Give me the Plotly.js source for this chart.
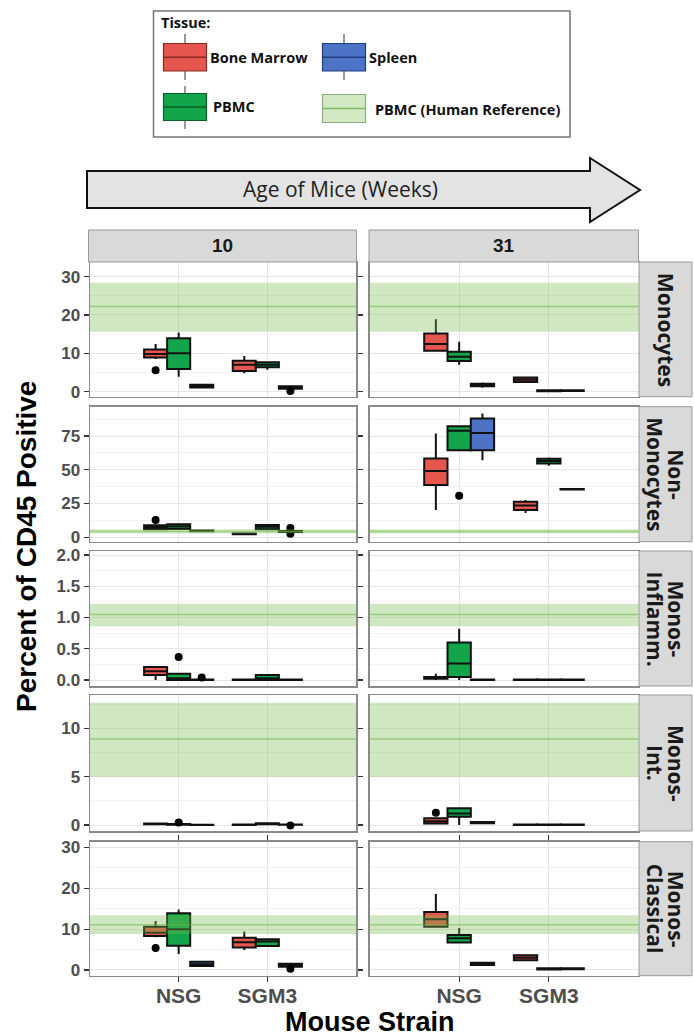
<!DOCTYPE html>
<html><head><meta charset="utf-8">
<script src="https://cdn.plot.ly/plotly-3.0.1.min.js"></script>
<style>html,body{margin:0;padding:0;background:#fff}</style>
</head><body><div id="chart" style="width:694px;height:1036px"></div>
<script>
// ---------------- DATA ----------------
const strains = ['NSG', 'SGM3'];
const ages = ['10', '31'];
const cellTypes = ['Monocytes', 'Non-\nMonocytes', 'Monos-\nInflamm.', 'Monos-\nInt.', 'Monos-\nClassical'];
const tissues = ['Bone Marrow', 'PBMC', 'Spleen'];

// Five-number summaries [lower whisker, Q1, median, Q3, upper whisker] for [NSG, SGM3]
const monocytes_10 = {
  bm:     [[8.5, 8.9, 9.8, 11.0, 12.4], [4.8, 5.4, 7.0, 8.1, 9.3]],
  pbmc:   [[3.9, 5.9, 10.0, 13.9, 15.4], [5.7, 6.4, 7.0, 7.7, 7.8]],
  spleen: [[1.0, 1.1, 1.4, 1.8, 1.9], [0.6, 0.8, 1.1, 1.4, 1.5]]
};
const monocytes_31 = {
  bm:     [[10.5, 10.7, 12.4, 15.2, 18.9], [2.3, 2.5, 3.1, 3.7, 3.9]],
  pbmc:   [[7.0, 8.0, 9.1, 10.4, 13.0], [0.0, 0.1, 0.2, 0.4, 0.5]],
  spleen: [[1.0, 1.4, 1.7, 2.1, 2.4], [0.1, 0.2, 0.3, 0.4, 0.5]]
};
const nonMonocytes_10 = {
  bm:     [[5.5, 5.9, 7.4, 8.9, 9.5], [2.0, 2.2, 2.5, 2.8, 3.0]],
  pbmc:   [[5.8, 6.1, 8.0, 9.6, 9.8], [5.6, 5.9, 7.8, 9.1, 9.3]],
  spleen: [[4.2, 4.4, 4.7, 5.0, 5.2], [3.6, 3.8, 4.1, 4.6, 4.9]]
};
const nonMonocytes_31 = {
  bm:     [[20.2, 38.7, 49.0, 58.4, 76.9], [18.0, 20.2, 23.5, 26.3, 27.5]],
  pbmc:   [[64.5, 64.5, 78.8, 82.3, 82.3], [53.0, 54.7, 56.5, 58.1, 59.0]],
  spleen: [[57.1, 64.5, 77.3, 88.0, 91.6], [35.0, 35.3, 35.5, 35.8, 36.0]]
};
const inflamm_10 = {
  bm:     [[0.0, 0.08, 0.14, 0.21, 0.22], [0.0, 0.0, 0.005, 0.01, 0.01]],
  pbmc:   [[0.0, 0.0, 0.03, 0.10, 0.11], [0.0, 0.0, 0.03, 0.08, 0.08]],
  spleen: [[0.0, 0.0, 0.005, 0.01, 0.01], [0.0, 0.0, 0.005, 0.01, 0.01]]
};
const inflamm_31 = {
  bm:     [[0.0, 0.02, 0.03, 0.05, 0.10], [0.0, 0.0, 0.005, 0.01, 0.01]],
  pbmc:   [[0.0, 0.05, 0.265, 0.60, 0.82], [0.0, 0.0, 0.005, 0.01, 0.01]],
  spleen: [[0.0, 0.0, 0.005, 0.01, 0.02], [0.0, 0.0, 0.005, 0.01, 0.01]]
};
const intermediate_10 = {
  bm:     [[0.05, 0.08, 0.12, 0.16, 0.20], [0.0, 0.01, 0.02, 0.04, 0.05]],
  pbmc:   [[0.0, 0.02, 0.05, 0.10, 0.15], [0.05, 0.08, 0.12, 0.18, 0.20]],
  spleen: [[0.0, 0.0, 0.01, 0.02, 0.03], [0.01, 0.02, 0.03, 0.05, 0.06]]
};
const intermediate_31 = {
  bm:     [[0.10, 0.15, 0.40, 0.69, 0.75], [0.0, 0.01, 0.02, 0.04, 0.05]],
  pbmc:   [[0.0, 0.86, 1.20, 1.73, 1.80], [0.0, 0.01, 0.02, 0.04, 0.05]],
  spleen: [[0.15, 0.18, 0.24, 0.30, 0.33], [0.0, 0.01, 0.02, 0.04, 0.05]]
};
const classical_10 = {
  bm:     [[8.0, 8.3, 9.1, 10.6, 12.0], [4.9, 5.5, 6.8, 7.9, 9.4]],
  pbmc:   [[3.9, 5.95, 10.0, 13.9, 14.8], [5.7, 5.9, 7.0, 7.5, 7.6]],
  spleen: [[1.0, 1.0, 1.4, 2.0, 2.0], [0.7, 0.8, 1.1, 1.5, 1.5]]
};
const classical_31 = {
  bm:     [[10.4, 10.6, 12.4, 14.2, 18.6], [2.2, 2.4, 3.0, 3.6, 3.8]],
  pbmc:   [[6.5, 6.7, 7.75, 8.55, 10.3], [0.0, 0.1, 0.2, 0.4, 0.5]],
  spleen: [[1.1, 1.2, 1.5, 1.8, 1.9], [0.1, 0.2, 0.3, 0.4, 0.5]]
};

// Outlying points for [NSG, SGM3]
const monocytes_10_out    = { bm: [[5.6], []], pbmc: [[], []], spleen: [[], [0.2]] };
const monocytes_31_out    = { bm: [[], []], pbmc: [[], []], spleen: [[], []] };
const nonMonocytes_10_out = { bm: [[12.8], []], pbmc: [[], []], spleen: [[], [6.8, 2.6]] };
const nonMonocytes_31_out = { bm: [[], []], pbmc: [[30.8], []], spleen: [[], []] };
const inflamm_10_out      = { bm: [[], []], pbmc: [[0.37], []], spleen: [[0.04], []] };
const inflamm_31_out      = { bm: [[], []], pbmc: [[], []], spleen: [[], []] };
const intermediate_10_out = { bm: [[], []], pbmc: [[0.25], []], spleen: [[], [-0.05]] };
const intermediate_31_out = { bm: [[1.27], []], pbmc: [[], []], spleen: [[], []] };
const classical_10_out    = { bm: [[5.4], []], pbmc: [[], []], spleen: [[], [0.3]] };
const classical_31_out    = { bm: [[], []], pbmc: [[], []], spleen: [[], []] };

// PBMC human reference band per cell type: low, mid, high
const refLow  = [15.6, 2.7, 0.86, 5.0, 8.8];
const refMid  = [22.2, 4.3, 1.05, 8.9, 11.1];
const refHigh = [28.4, 6.0, 1.22, 12.65, 13.4];

// ---------------- BUILD ----------------
const W = 694, H = 1036;
const X = px => px / W;
const Y = py => 1 - py / H;

const panels = [
  [monocytes_10, monocytes_31], [nonMonocytes_10, nonMonocytes_31], [inflamm_10, inflamm_31],
  [intermediate_10, intermediate_31], [classical_10, classical_31]
];
const outliers = [
  [monocytes_10_out, monocytes_31_out], [nonMonocytes_10_out, nonMonocytes_31_out], [inflamm_10_out, inflamm_31_out],
  [intermediate_10_out, intermediate_31_out], [classical_10_out, classical_31_out]
];
const keys = ['bm', 'pbmc', 'spleen'];
const fills = ['#e4564e', '#12a54a', '#4c73c5'];

const traces = [];
panels.forEach((row, ri) => row.forEach((panel, ci) => keys.forEach((k, ti) => {
  const s = panel[k];
  traces.push({
    type: 'box', name: tissues[ti], showlegend: false,
    x: strains,
    lowerfence: s.map(v => v[0]), q1: s.map(v => v[1]), median: s.map(v => v[2]),
    q3: s.map(v => v[3]), upperfence: s.map(v => v[4]),
    // sample points: the median (never drawn) plus any outlying observations
    y: s.map((v, j) => [v[2]].concat(outliers[ri][ci][k][j])),
    boxpoints: 'outliers', jitter: 0, pointpos: 0,
    xaxis: ci === 0 ? 'x' : 'x2', yaxis: ri === 0 ? 'y' : 'y' + (ri + 1),
    offsetgroup: k,
    fillcolor: fills[ti],
    line: { color: '#111111', width: 2 },
    marker: { color: '#000000', size: 8, outliercolor: '#000000', line: { width: 0 } },
    whiskerwidth: 0, hoverinfo: 'skip'
  });
})));

const colDom = [[X(90), X(356)], [X(369.5), X(638.5)]];
const rowPx = [[262, 396.7], [406.7, 541.7], [551, 686], [695, 831], [841.7, 975.7]];
const yRanges = [[-1.3, 33.8], [-3.3, 96.7], [-0.096, 2.064], [-0.62, 13.44], [-1.4, 31.4]];
const dticks = [10, 25, 0.5, 5, 10];

const borderCol = '#8a8a8a';
const gridCol = '#e6e6e6';
const minorCol = '#f2f2f2';
const tickFont = { family: 'Liberation Sans, Arial, sans-serif', size: 17, color: '#4d4d4d', weight: 'bold' };

const layout = {
  width: W, height: H, margin: { l: 0, r: 0, t: 0, b: 0 },
  paper_bgcolor: '#ffffff', plot_bgcolor: '#ffffff',
  boxmode: 'group', boxgap: 0.22, boxgroupgap: 0,
  showlegend: false,
  shapes: [], annotations: []
};

[0, 1].forEach(ci => {
  const name = ci === 0 ? 'xaxis' : 'xaxis2';
  layout[name] = {
    domain: colDom[ci], anchor: 'y5', type: 'category', categoryarray: strains,
    range: [-1, 2], showgrid: true, gridcolor: gridCol, gridwidth: 1,
    showline: true, linecolor: borderCol, linewidth: 1.5, mirror: 'all',
    ticks: 'outside', ticklen: 5, tickcolor: '#333333', tickwidth: 1.2, ticklabelstandoff: -4,
    tickfont: { family: 'Liberation Sans, Arial, sans-serif', size: 21, color: '#4d4d4d', weight: 'bold' },
    zeroline: false, fixedrange: true
  };
});

rowPx.forEach((rp, ri) => {
  const name = ri === 0 ? 'yaxis' : 'yaxis' + (ri + 1);
  layout[name] = {
    domain: [Y(rp[1]), Y(rp[0])], anchor: 'x', range: yRanges[ri],
    tick0: 0, dtick: dticks[ri], tickformat: ri === 2 ? '.1f' : '',
    showgrid: true, gridcolor: gridCol, gridwidth: 1,
    minor: { dtick: dticks[ri] / 2, tick0: 0, showgrid: true, gridcolor: minorCol, gridwidth: 1 },
    showline: true, linecolor: borderCol, linewidth: 1.5, mirror: 'all',
    ticks: 'outside', ticklen: 5, tickcolor: '#333333', tickwidth: 1.2,
    tickfont: tickFont, zeroline: false, fixedrange: true
  };
  // human reference bands
  [0, 1].forEach(ci => {
    const xr = (ci === 0 ? 'x' : 'x2') + ' domain';
    const yr = ri === 0 ? 'y' : 'y' + (ri + 1);
    layout.shapes.push({ type: 'rect', layer: 'above', xref: xr, yref: yr, x0: 0, x1: 1,
      y0: refLow[ri], y1: refHigh[ri], fillcolor: 'rgba(120,190,80,0.35)', line: { width: 0 } });
    layout.shapes.push({ type: 'line', layer: 'above', xref: xr, yref: yr, x0: 0, x1: 1,
      y0: refMid[ri], y1: refMid[ri], line: { color: 'rgba(110,180,70,0.55)', width: 1.5 } });
  });
  // right strip
  layout.shapes.push({ type: 'rect', xref: 'paper', yref: 'paper', x0: X(639), x1: X(692),
    y0: Y(rp[1]), y1: Y(rp[0]), fillcolor: '#d9d9d9', line: { color: '#999999', width: 1 } });
  const lines = cellTypes[ri].split('\n');
  const cx = 665.5;
  lines.forEach((ln, li) => {
    const off = lines.length === 1 ? 0 : (li === 0 ? 10.5 : -10.5);
    layout.annotations.push({ xref: 'paper', yref: 'paper', x: X(cx + off), y: Y((rp[0] + rp[1]) / 2),
      text: ln, showarrow: false, textangle: 90, xanchor: 'center', yanchor: 'middle',
      font: { family: 'Open Sans, sans-serif', size: 21, color: '#1a1a1a', weight: 'bold' } });
  });
});

// top strips
[[88.5, 356.5], [369, 638.5]].forEach((c, ci) => {
  layout.shapes.push({ type: 'rect', xref: 'paper', yref: 'paper', x0: X(c[0]), x1: X(c[1]),
    y0: Y(262), y1: Y(230), fillcolor: '#d9d9d9', line: { color: '#999999', width: 1 } });
  layout.annotations.push({ xref: 'paper', yref: 'paper', x: X((c[0] + c[1]) / 2), y: Y(246),
    text: ages[ci], showarrow: false, xanchor: 'center', yanchor: 'middle',
    font: { family: 'Liberation Sans, Arial, sans-serif', size: 19, color: '#1a1a1a', weight: 'bold' } });
});

// arrow
const arrowPts = [[87, 171], [590, 171], [590, 158], [640, 190], [590, 222], [590, 208], [87, 208]];
layout.shapes.push({ type: 'path', xref: 'paper', yref: 'paper',
  path: 'M' + arrowPts.map(p => X(p[0]) + ',' + Y(p[1])).join(' L') + ' Z',
  fillcolor: '#e3e3e3', line: { color: '#111111', width: 2 } });
layout.annotations.push({ xref: 'paper', yref: 'paper', x: X(340), y: Y(189), text: 'Age of Mice (Weeks)',
  showarrow: false, xanchor: 'center', yanchor: 'middle',
  font: { family: 'Open Sans, sans-serif', size: 21, color: '#222222' } });

// axis titles
layout.annotations.push({ xref: 'paper', yref: 'paper', x: X(26), y: Y(547), text: 'Percent of CD45 Positive',
  showarrow: false, textangle: -90, xanchor: 'center', yanchor: 'middle',
  font: { family: 'Liberation Sans, Arial, sans-serif', size: 28, color: '#000000', weight: 'bold' } });
layout.annotations.push({ xref: 'paper', yref: 'paper', x: X(370), y: Y(1022), text: 'Mouse Strain',
  showarrow: false, xanchor: 'center', yanchor: 'middle',
  font: { family: 'Liberation Sans, Arial, sans-serif', size: 27, color: '#000000', weight: 'bold' } });

// legend
layout.shapes.push({ type: 'rect', xref: 'paper', yref: 'paper', x0: X(153.5), x1: X(570), y0: Y(137), y1: Y(11),
  fillcolor: '#ffffff', line: { color: '#777777', width: 1.5 } });
const legFont = { family: 'Open Sans, sans-serif', size: 14.5, color: '#111111', weight: 'bold' };
layout.annotations.push({ xref: 'paper', yref: 'paper', x: X(159), y: Y(22.5), text: 'Tissue:', showarrow: false,
  xanchor: 'left', yanchor: 'middle', font: legFont });
const legItems = [
  { x0: 163.5, y0: 43.5, y1: 71, wt: 34, wb: 80, fill: '#e4564e', edge: '#8a2a25', label: tissues[0], tx: 208, ty: 57.5 },
  { x0: 322.5, y0: 43.5, y1: 71, wt: 34, wb: 80, fill: '#4c73c5', edge: '#213d80', label: tissues[2], tx: 367, ty: 57.5 },
  { x0: 163.5, y0: 93.5, y1: 120.5, wt: 86, wb: 129, fill: '#12a54a', edge: '#0b5e29', label: tissues[1], tx: 211, ty: 106.5 }
];
legItems.forEach(it => {
  const xm = it.x0 + 21.5, ym = (it.y0 + it.y1) / 2;
  layout.shapes.push({ type: 'line', xref: 'paper', yref: 'paper', x0: X(xm), x1: X(xm), y0: Y(it.wt), y1: Y(it.wb),
    line: { color: '#555555', width: 1.2 } });
  layout.shapes.push({ type: 'rect', xref: 'paper', yref: 'paper', x0: X(it.x0), x1: X(it.x0 + 43), y0: Y(it.y1), y1: Y(it.y0),
    fillcolor: it.fill, line: { color: it.edge, width: 1.2 } });
  layout.shapes.push({ type: 'line', xref: 'paper', yref: 'paper', x0: X(it.x0), x1: X(it.x0 + 43), y0: Y(ym), y1: Y(ym),
    line: { color: it.edge, width: 1.5 } });
  layout.annotations.push({ xref: 'paper', yref: 'paper', x: X(it.tx), y: Y(it.ty), text: it.label, showarrow: false,
    xanchor: 'left', yanchor: 'middle', font: legFont });
});
layout.shapes.push({ type: 'rect', xref: 'paper', yref: 'paper', x0: X(322.5), x1: X(365.5), y0: Y(122.5), y1: Y(94.5),
  fillcolor: '#d3e9c4', line: { color: '#8fae80', width: 1.2 } });
layout.shapes.push({ type: 'line', xref: 'paper', yref: 'paper', x0: X(322.5), x1: X(365.5), y0: Y(108.5), y1: Y(108.5),
  line: { color: '#7cc060', width: 1.5 } });
layout.annotations.push({ xref: 'paper', yref: 'paper', x: X(373), y: Y(109.5), text: 'PBMC (Human Reference)', showarrow: false,
  xanchor: 'left', yanchor: 'middle', font: legFont });

Plotly.newPlot('chart', traces, layout, { staticPlot: true, displayModeBar: false });
</script></body></html>
